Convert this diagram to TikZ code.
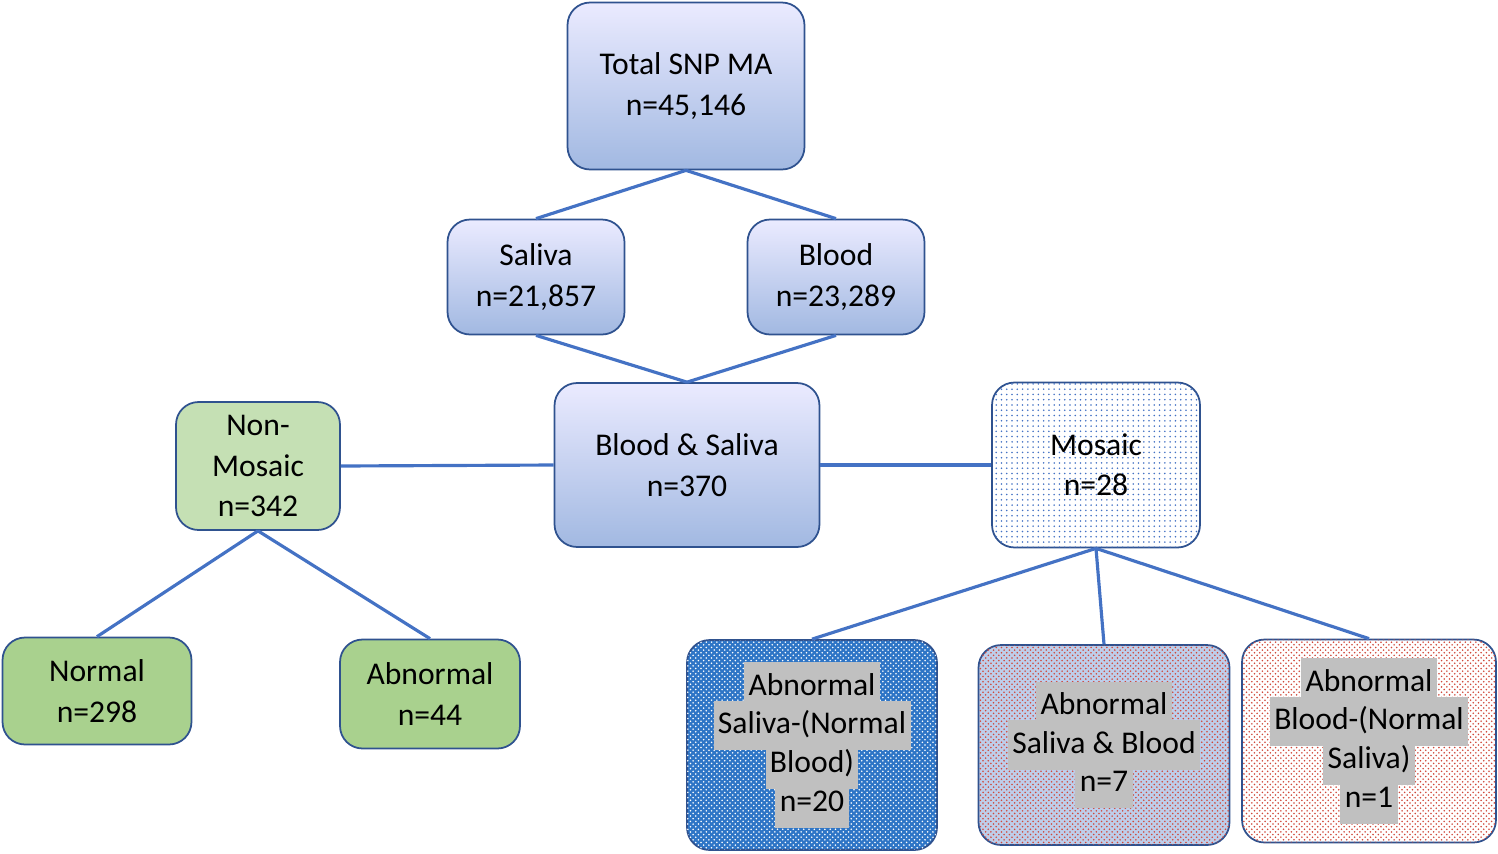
\documentclass[tikz,border=0pt]{standalone}
\usepackage{fontspec}
\setmainfont{Carlito}
\usetikzlibrary{patterns,positioning}
\definecolor{linkblue}{HTML}{4472C4}
\definecolor{edgeblue}{HTML}{2F528F}
\definecolor{fillblue}{HTML}{2E75C6}
\definecolor{greenlight}{HTML}{C5E0B4}
\definecolor{greenmid}{HTML}{A9D18E}
\definecolor{hlgray}{HTML}{C0C0C0}
\definecolor{dotred}{HTML}{D0483A}
\newcommand{\hlt}[1]{{\setlength{\fboxsep}{2.5pt}\colorbox{hlgray}{\strut#1}}}
\begin{document}
\begin{tikzpicture}[x=0.02cm,y=-0.02cm,
    box/.style={rectangle, draw=edgeblue, line width=1pt, rounded corners=0.45cm, align=center,
      font=\fontsize{18}{23}\selectfont, inner sep=0pt},
    bluebox/.style={box, top color=blue!8!white, bottom color=linkblue!50!white},
    greenbox/.style={box, fill=#1},
    link/.style={draw=linkblue, line width=1.8pt}
]
\useasboundingbox (0,0) rectangle (1498,853);

% top levels
\node[bluebox, minimum width=4.74cm, minimum height=3.34cm] (total) at (686,86) {Total SNP MA\\n=45,146};
\node[bluebox, minimum width=3.54cm, minimum height=2.3cm] (saliva) at (536,277) {Saliva\\n=21,857};
\node[bluebox, minimum width=3.54cm, minimum height=2.3cm] (blood) at (836,277) {Blood\\n=23,289};
\node[bluebox, minimum width=5.3cm, minimum height=3.28cm] (both) at (687,465) {Blood \& Saliva\\n=370};

% non-mosaic branch
\node[greenbox=greenlight, minimum width=3.28cm, minimum height=2.56cm] (nonmos) at (258,466) {Non-\\Mosaic\\n=342};
\node[greenbox=greenmid, minimum width=3.78cm, minimum height=2.14cm] (normal) at (97,691) {Normal\\n=298};
\node[greenbox=greenmid, minimum width=3.6cm, minimum height=2.18cm] (abnorm) at (430,694) {Abnormal\\n=44};

% mosaic branch
\node[box, fill=white, postaction={pattern=dots, pattern color=linkblue}, minimum width=4.16cm, minimum height=3.3cm] (mosaic) at (1096,465) {Mosaic\\n=28};
\node[box, fill=fillblue, postaction={pattern=crosshatch dots, pattern color=white}, minimum width=5cm, minimum height=4.2cm] (msal) at (812,745)
  {\hlt{Abnormal}\\[-7pt]\hlt{Saliva-(Normal}\\[-7pt]\hlt{Blood)}\\[-7pt]\hlt{n=20}};
\node[box, fill=linkblue!35!white, postaction={pattern=crosshatch dots, pattern color=dotred}, minimum width=5.02cm, minimum height=4cm] (mboth) at (1104,745)
  {\hlt{Abnormal}\\[-7pt]\hlt{Saliva \& Blood}\\[-7pt]\hlt{n=7}};
\node[box, fill=white, postaction={pattern=crosshatch dots, pattern color=dotred}, minimum width=5.08cm, minimum height=4.06cm] (mblood) at (1369,741)
  {\hlt{Abnormal}\\[-7pt]\hlt{Blood-(Normal}\\[-7pt]\hlt{Saliva)}\\[-7pt]\hlt{n=1}};

% connectors
\draw[link] (total.south) -- (saliva.north);
\draw[link] (total.south) -- (blood.north);
\draw[link] (saliva.south) -- (both.north);
\draw[link] (blood.south) -- (both.north);
\draw[link] (both.west) -- (nonmos.east);
\draw[link] (both.east) -- (mosaic.west);
\draw[link] (nonmos.south) -- (normal.north);
\draw[link] (nonmos.south) -- (abnorm.north);
\draw[link] (mosaic.south) -- (msal.north);
\draw[link] (mosaic.south) -- (mboth.north);
\draw[link] (mosaic.south) -- (mblood.north);

\end{tikzpicture}
\end{document}
